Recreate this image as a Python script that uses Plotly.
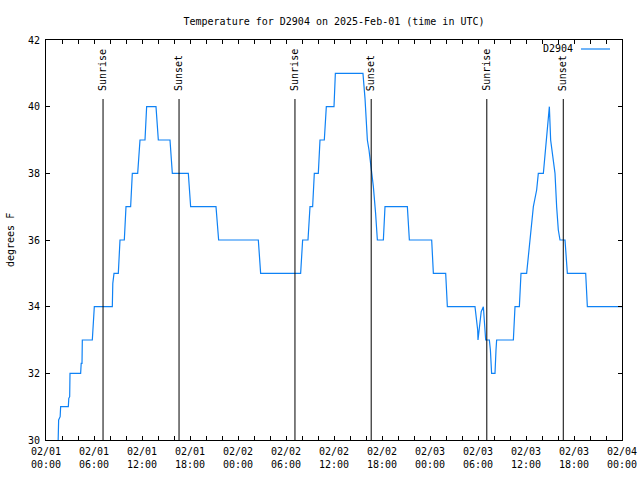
import pandas as pd
import plotly.graph_objects as go

# ---------------- data ----------------
series_name = "D2904"
start_time = "2025-02-01 00:00"
title_text = "Temperature for D2904 on 2025-Feb-01 (time in UTC)"
y_title = "degrees F"

# hours since 2025-02-01 00:00 UTC
hours = [
    1.52, 1.58, 1.77, 1.83, 2.79, 2.85, 2.96, 3.00, 4.33, 4.40, 4.50, 4.54,
    5.79, 5.88, 6.04, 8.29, 8.35, 8.50, 9.04, 9.25, 9.79, 10.00, 10.58, 10.79,
    11.46, 11.75, 12.375, 12.58, 13.75, 14.04, 15.50, 15.79, 17.79, 18.08,
    21.25, 21.58,
    26.54, 26.83, 31.83, 32.08, 32.75, 33.00, 33.33, 33.54, 34.04, 34.25,
    34.79, 35.04, 36.00, 36.17, 39.62, 39.875, 40.00, 40.17, 40.375, 40.58,
    40.71, 40.92, 41.20, 41.42, 42.17, 42.375, 45.17, 45.42,
    48.21, 48.42, 49.96, 50.17, 53.625, 53.83, 53.96, 54.00, 54.17, 54.40,
    54.67, 54.80, 54.96, 55.42, 55.55, 55.70, 56.125, 56.25, 56.33, 58.42,
    58.625, 59.17, 59.375, 60.08, 60.50, 60.92, 61.33, 61.54, 62.17, 62.50,
    62.79, 62.92, 63.08, 63.42, 63.625, 63.83, 64.04, 64.25, 64.875, 65.17,
    67.46, 67.67, 72.00,
]
temps = [
    30.0, 30.6, 30.7, 31.0, 31.0, 31.25, 31.3, 32.0, 32.0, 32.3, 32.3, 33.0,
    33.0, 33.4, 34.0, 34.0, 34.7, 35.0, 35.0, 36.0, 36.0, 37.0, 37.0, 38.0,
    38.0, 39.0, 39.0, 40.0, 40.0, 39.0, 39.0, 38.0, 38.0, 37.0,
    37.0, 36.0,
    36.0, 35.0, 35.0, 36.0, 36.0, 37.0, 37.0, 38.0, 38.0, 39.0,
    39.0, 40.0, 40.0, 41.0, 41.0, 40.25, 39.8, 39.0, 38.7, 38.3,
    37.95, 37.6, 36.8, 36.0, 36.0, 37.0, 37.0, 36.0,
    36.0, 35.0, 35.0, 34.0, 34.0, 33.6, 33.3, 33.0, 33.35, 33.85,
    34.0, 33.5, 33.0, 33.0, 32.7, 32.0, 32.0, 32.7, 33.0, 33.0,
    34.0, 34.0, 35.0, 35.0, 36.0, 37.0, 37.5, 38.0, 38.0, 39.0,
    39.7, 40.0, 39.0, 38.3, 38.0, 37.0, 36.3, 36.0, 36.0, 35.0,
    35.0, 34.0, 34.0,
]

event_names = ["Sunrise", "Sunset", "Sunrise", "Sunset", "Sunrise", "Sunset"]
event_hours = [7.13, 16.63, 31.12, 40.65, 55.10, 64.66]

xtick_hours = [0, 6, 12, 18, 24, 30, 36, 42, 48, 54, 60, 66, 72]
xtick_labels = [
    "02/01<br>00:00", "02/01<br>06:00", "02/01<br>12:00", "02/01<br>18:00",
    "02/02<br>00:00", "02/02<br>06:00", "02/02<br>12:00", "02/02<br>18:00",
    "02/03<br>00:00", "02/03<br>06:00", "02/03<br>12:00", "02/03<br>18:00",
    "02/04<br>00:00",
]
ytick_vals = [30, 32, 34, 36, 38, 40, 42]
y_range = [30, 42]

# ---------------- figure ----------------
t0 = pd.Timestamp(start_time)
to_time = lambda h: t0 + pd.Timedelta(hours=h)
times = [to_time(h) for h in hours]

FONT = "DejaVu Sans Mono"
LINE_COLOR = "#0f82f5"

fig = go.Figure()
fig.add_trace(go.Scatter(
    x=times, y=temps, mode="lines", name=series_name,
    line=dict(color=LINE_COLOR, width=1.2), showlegend=False,
))

W, H = 640, 480
L, R, T, B = 46, 18, 40, 40
pw, ph = W - L - R, H - T - B

shapes = []
annotations = []
for name, h in zip(event_names, event_hours):
    shapes.append(dict(type="line", xref="x", yref="paper",
                       x0=to_time(h), x1=to_time(h), y0=0, y1=(440 - 99) / ph,
                       line=dict(color="black", width=1)))
    annotations.append(dict(text=name, xref="x", yref="paper", x=to_time(h),
                            y=(440 - 93) / ph, xanchor="center", yanchor="bottom",
                            textangle=-90, showarrow=False,
                            font=dict(family=FONT, size=10, color="black")))

# legend (text left of sample line, gnuplot style)
annotations.append(dict(text=series_name, xref="paper", yref="paper",
                        x=(575 - L) / pw, y=(440 - 48) / ph, xanchor="right",
                        yanchor="middle", showarrow=False,
                        font=dict(family=FONT, size=10, color="black")))
shapes.append(dict(type="line", xref="paper", yref="paper",
                   x0=(581 - L) / pw, x1=(610 - L) / pw,
                   y0=(440 - 49) / ph, y1=(440 - 49) / ph,
                   line=dict(color=LINE_COLOR, width=1.2)))

# y axis title
annotations.append(dict(text=y_title, xref="paper", yref="paper",
                        x=(10 - L) / pw, y=0.5, xanchor="center", yanchor="middle",
                        textangle=-90, showarrow=False,
                        font=dict(family=FONT, size=10, color="black")))

fig.update_layout(
    width=W, height=H,
    margin=dict(l=L, r=R, t=T, b=B, pad=0, autoexpand=False),
    paper_bgcolor="white", plot_bgcolor="white",
    font=dict(family=FONT, size=10, color="black"),
    title=dict(text=title_text, x=(334) / W, xanchor="center",
               y=1 - 21 / H, yanchor="middle", yref="container",
               font=dict(family=FONT, size=10, color="black")),
    shapes=shapes, annotations=annotations,
    showlegend=False,
)
fig.update_xaxes(
    range=[to_time(0), to_time(72)], automargin=False,
    tickmode="array", tickvals=[to_time(h) for h in xtick_hours], ticktext=xtick_labels,
    ticks="inside", ticklen=4, tickcolor="black", tickwidth=1, ticklabelstandoff=2,
    minor=dict(dtick=2 * 3600 * 1000, tick0=to_time(0), ticks="inside",
               ticklen=4, tickcolor="black", tickwidth=1, showgrid=False),
    showline=True, linecolor="black", linewidth=1, mirror="ticks",
    showgrid=False, zeroline=False,
)
fig.update_yaxes(
    range=y_range, tickmode="array", tickvals=ytick_vals, automargin=False,
    ticks="inside", ticklen=4, tickcolor="black", tickwidth=1, ticklabelstandoff=3,
    showline=True, linecolor="black", linewidth=1, mirror="ticks",
    showgrid=False, zeroline=False,
)

fig.write_html(
    "out.html",
    config={"displayModeBar": False},
    post_script="document.body.style.margin='0';document.body.style.padding='0';",
)
